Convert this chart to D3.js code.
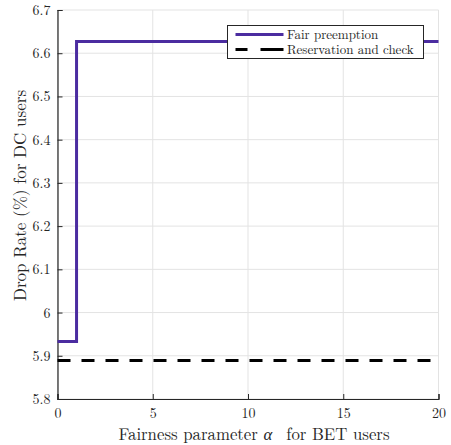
<!DOCTYPE html>
<html>
<head>
<meta charset="utf-8">
<script src="https://cdn.jsdelivr.net/npm/d3@7"></script>
<style>
  html, body { margin: 0; padding: 0; background: #fff; }
</style>
</head>
<body>
<div id="chart"></div>
<script>
// data
const fairAlpha = [0, 1, 1, 20];
const fairDrop = [5.933, 5.933, 6.627, 6.627];
const reserveAlpha = [0, 20];
const reserveDrop = [5.889, 5.889];
const xTicks = [0, 5, 10, 15, 20];
const yTicks = [5.8, 5.9, 6, 6.1, 6.2, 6.3, 6.4, 6.5, 6.6, 6.7];
const seriesNames = ["Fair preemption", "Reservation and check"];

const FONT = '"Latin Modern Roman"';
const W = 451, H = 445;
const margin = {top: 10, right: 12.5, bottom: 46, left: 57.5};
const width = W - margin.left - margin.right;
const height = H - margin.top - margin.bottom;

const svg = d3.select("#chart").append("svg")
    .attr("width", W).attr("height", H);
const g = svg.append("g").attr("transform", `translate(${margin.left},${margin.top})`);

const x = d3.scaleLinear().domain([0, 20]).range([0, width]);
const y = d3.scaleLinear().domain([5.8, 6.7]).range([height, 0]);

// grid
g.append("g").selectAll("line").data(xTicks).join("line")
    .attr("x1", d => x(d)).attr("x2", d => x(d)).attr("y1", 0).attr("y2", height)
    .attr("stroke", "#e3e3e3").attr("stroke-width", 1);
g.append("g").selectAll("line").data(yTicks).join("line")
    .attr("x1", 0).attr("x2", width).attr("y1", d => y(d)).attr("y2", d => y(d))
    .attr("stroke", "#e3e3e3").attr("stroke-width", 1);

// axes
const xAxis = g.append("g").attr("transform", `translate(0,${height})`)
    .call(d3.axisBottom(x).tickValues(xTicks).tickSize(-5).tickPadding(9).tickFormat(d3.format("d")));
const yAxis = g.append("g")
    .call(d3.axisLeft(y).tickValues(yTicks).tickSize(-5).tickPadding(7).tickFormat(d => d === 6 ? "6" : d3.format(".1f")(d)));
[xAxis, yAxis].forEach(ax => {
    ax.select(".domain").attr("stroke", "#262626").attr("stroke-width", 1.2);
    ax.selectAll(".tick line").attr("stroke", "#262626");
    ax.selectAll(".tick text").attr("fill", "#262626").style("font-size", "14px");
});

// series
const line = d3.line().x(d => x(d[0])).y(d => y(d[1]));
g.append("path")
    .datum(reserveAlpha.map((a, i) => [a, reserveDrop[i]]))
    .attr("d", line).attr("fill", "none")
    .attr("stroke", "#000").attr("stroke-width", 3).attr("stroke-dasharray", "13 11");
g.append("path")
    .datum(fairAlpha.map((a, i) => [a, fairDrop[i]]))
    .attr("d", line).attr("fill", "none")
    .attr("stroke", "#4b2ca0").attr("stroke-width", 3);

// legend
const lg = svg.append("g").attr("transform", "translate(227.5,25.5)");
lg.append("rect").attr("width", 196).attr("height", 33)
    .attr("fill", "#fff").attr("stroke", "#262626").attr("stroke-width", 1);
const legendStyles = [
    {stroke: "#4b2ca0", dash: null},
    {stroke: "#000", dash: "12 13 30"}
];
seriesNames.forEach((name, i) => {
    const yy = 9 + i * 15;
    lg.append("line").attr("x1", 8).attr("x2", 56).attr("y1", yy).attr("y2", yy)
        .attr("stroke", legendStyles[i].stroke).attr("stroke-width", 3)
        .attr("stroke-dasharray", legendStyles[i].dash);
    lg.append("text").attr("x", 59.5).attr("y", yy + 4.5)
        .attr("fill", "#262626").style("font-size", "13px").text(name);
});

// axis labels
svg.append("text")
    .attr("x", 254).attr("y", 440)
    .attr("text-anchor", "middle").attr("fill", "#262626").style("font-size", "16.8px")
    .html('Fairness parameter <tspan font-style="italic">α</tspan>\u00a0 for BET users');
svg.append("text")
    .attr("transform", "translate(26,195.5) rotate(-90)")
    .attr("text-anchor", "middle").attr("fill", "#262626").style("font-size", "17px")
    .text("Drop Rate (%) for DC users");

svg.selectAll("text").style("font-family", FONT);
</script>
</body>
</html>
